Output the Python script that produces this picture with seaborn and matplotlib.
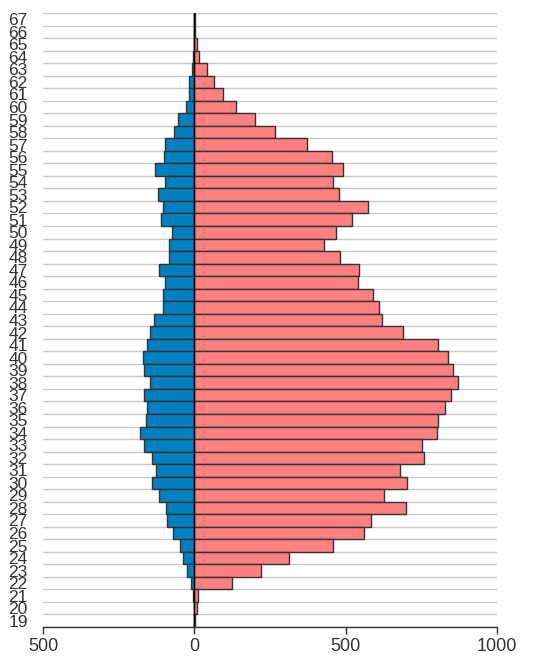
import numpy as np
import pandas as pd
import matplotlib
matplotlib.use('Agg')
import matplotlib.pyplot as plt
import seaborn as sns

sns.set_theme(style='white')
plt.rcParams['font.family'] = ['Liberation Sans', 'DejaVu Sans']

# ages from 67 (top) down to 19 (bottom)
ages = list(range(67, 18, -1))
left_vals = [-1, -1, -1, -5, -7, -18, -18, -29, -55, -67, -96, -99, -129, -96, -120, -104,
             -111, -75, -85, -85, -117, -97, -104, -104, -132, -145, -157, -168, -165, -145,
             -167, -157, -161, -180, -165, -140, -126, -140, -117, -94, -89, -72, -46, -39,
             -25, -12, -5, -2, 0]
right_vals = [1, 3, 8, 16, 41, 66, 94, 138, 199, 268, 371, 455, 490, 457, 479, 573,
              522, 468, 428, 482, 543, 540, 590, 611, 620, 688, 806, 838, 854, 871,
              849, 827, 806, 803, 752, 759, 680, 702, 627, 699, 584, 562, 457, 314,
              221, 123, 11, 8, 2]
xticks = [-500, 0, 500, 1000]
xtick_labels = ['500', '0', '500', '1000']

age_labels = [str(a) for a in ages]
df = pd.concat([
    pd.DataFrame({'age': age_labels, 'value': left_vals, 'side': 'left'}),
    pd.DataFrame({'age': age_labels, 'value': right_vals, 'side': 'right'}),
])

fig = plt.figure(figsize=(5.57, 6.57), dpi=100)
ax = fig.add_axes([43 / 557, 30 / 657, 454 / 557, 614 / 657])

sns.barplot(data=df, x='value', y='age', hue='side', order=age_labels,
            palette={'left': '#0080c0', 'right': '#ff8080'}, saturation=1,
            dodge=False, width=1.0, edgecolor='#333333', linewidth=1,
            legend=False, ax=ax, zorder=3)

n = len(ages)
ax.set_ylim(n - 0.5, -0.5)
ax.set_xlim(-500, 1000)

# gridlines sit on the band boundaries
ax.set_yticks(np.arange(n + 1) - 0.5, minor=True)
ax.grid(True, which='minor', axis='y', color='#c8c8c8', linewidth=1, zorder=0)
ax.grid(False, which='major')
ax.axvline(0, color='black', linewidth=1.0, zorder=4)

ax.set_xticks(xticks)
ax.set_xticklabels(xtick_labels)
ax.tick_params(axis='x', which='major', direction='out', length=5, width=1,
               color='#333333', labelsize=13, labelcolor='#333333', pad=3, bottom=True)
ax.tick_params(axis='y', which='both', length=0, labelsize=12.5,
               labelcolor='#333333', pad=11)

for s in ['top', 'right', 'left']:
    ax.spines[s].set_visible(False)
ax.spines['bottom'].set_color('#333333')
ax.spines['bottom'].set_linewidth(1)
ax.set_xlabel('')
ax.set_ylabel('')

fig.savefig('out.png', dpi=100)
